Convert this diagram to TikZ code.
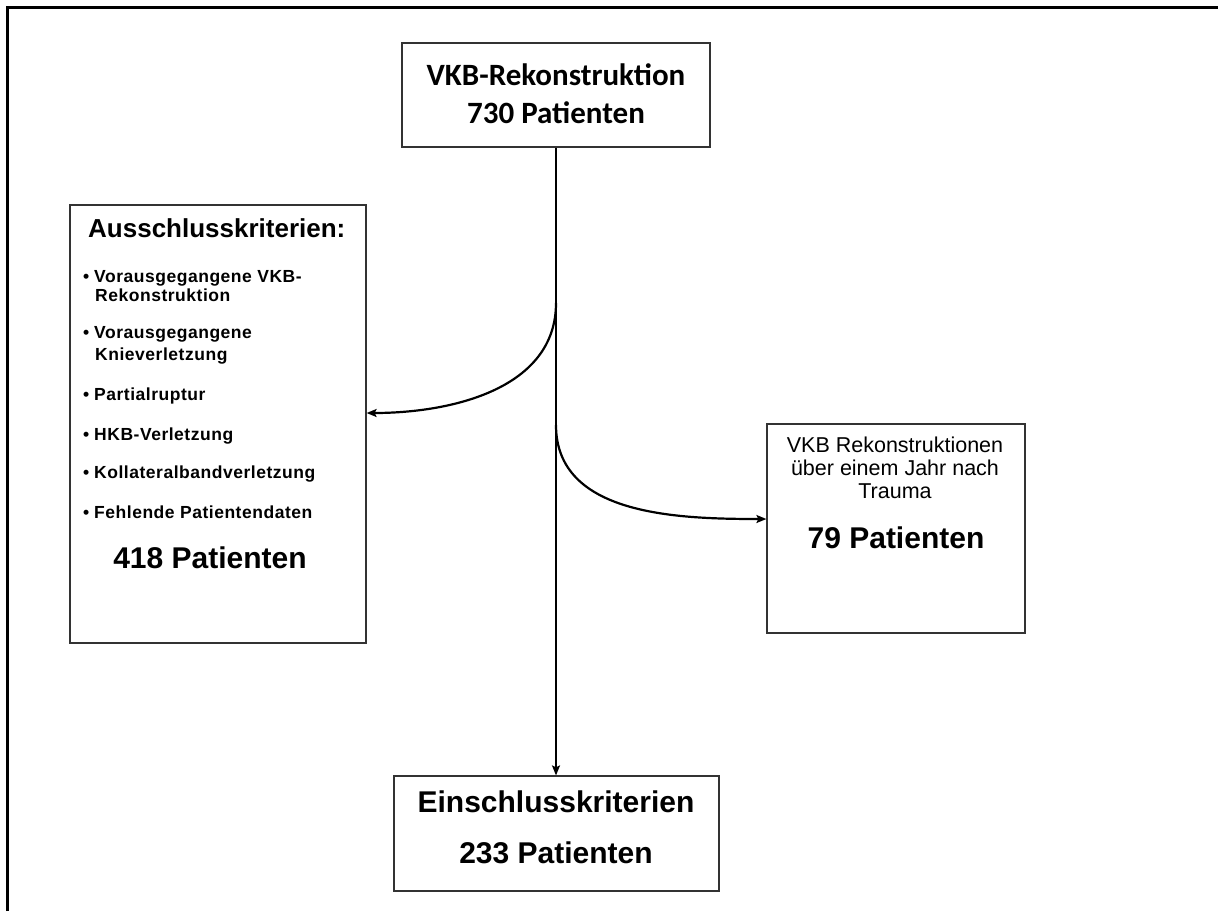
\documentclass[tikz,border=0pt]{standalone}
\usepackage{fontspec}
\setmainfont{Liberation Sans}
\newfontfamily\carlitofont{Carlito}
\usetikzlibrary{arrows.meta}
\begin{document}
\begin{tikzpicture}[x=1pt,y=-1pt,
  box/.style={draw=black!80,line width=1.2pt,inner sep=0pt},
  conn/.style={line width=2.2pt,-{Stealth[length=10pt,width=8pt,inset=2pt]}},
  bul/.style={anchor=base west,inner sep=0pt,font=\fontsize{17.5}{20}\selectfont\bfseries\addfontfeature{LetterSpace=3}},
  big/.style={anchor=base,inner sep=0pt,font=\fontsize{30}{36}\selectfont\bfseries},
  sm/.style={anchor=base,inner sep=0pt,font=\fontsize{21.5}{24}\selectfont}]
\useasboundingbox (0,0) rectangle (1218,911);
\draw[line width=3pt] (7,911) -- (7,7) -- (1218,7);
% boxes
\node[box,minimum width=308pt,minimum height=104pt] (top) at (556,95) {};
\node[box,minimum width=296pt,minimum height=438pt] (excl) at (218,424) {};
\node[box,minimum width=258pt,minimum height=209pt] (late) at (896,528.5) {};
\node[box,minimum width=325pt,minimum height=115pt] (incl) at (556.5,833.5) {};
% top text
\node[anchor=base,inner sep=0pt,font=\carlitofont\fontsize{31}{37}\selectfont\bfseries] (t1) at (556,85) {VKB-Rekonstruktion};
\node[anchor=base,inner sep=0pt,font=\carlitofont\fontsize{31}{37}\selectfont\bfseries] (t2) at (556,123) {730 Patienten};
% exclusion text
\node[anchor=base west,inner sep=0pt,font=\fontsize{26}{30}\selectfont\bfseries] (eh) at (88,237) {Ausschlusskriterien:};
\node[bul] (b1) at (83,282) {•};
\node[bul] (e1) at (94,282) {Vorausgegangene VKB-};
\node[bul] (e1b) at (95,301) {Rekonstruktion};
\node[bul] (b2) at (83,338) {•};
\node[bul] (e2) at (94,338) {Vorausgegangene};
\node[bul] (e2b) at (95,360) {Knieverletzung};
\node[bul] (b3) at (83,400) {•};
\node[bul] (e3) at (94,400) {Partialruptur};
\node[bul] (b4) at (83,440) {•};
\node[bul] (e4) at (94,440) {HKB-Verletzung};
\node[bul] (b5) at (83,478) {•};
\node[bul] (e5) at (94,478) {Kollateralbandverletzung};
\node[bul] (b6) at (83,518) {•};
\node[bul] (e6) at (94,518) {Fehlende Patientendaten};
\node[big] (en) at (210,568) {418 Patienten};
% late text
\node[sm] (l1) at (895,452) {VKB Rekonstruktionen};
\node[sm] (l2) at (895,475) {über einem Jahr nach};
\node[sm] (l3) at (895,498) {Trauma};
\node[big] (ln) at (896,548) {79 Patienten};
% inclusion text
\node[big] (i1) at (556,812) {Einschlusskriterien};
\node[big] (i2) at (556,863) {233 Patienten};
% connectors
\coordinate (s1) at (556,303);
\coordinate (s2) at (556,425);
\draw[conn] (top.south -| s1) -- (incl.north -| s1);
\draw[conn] (s1) to[out=-90,in=0] (excl.east |- 0,413);
\draw[conn] (s2) to[out=-90,in=180] (late.west |- 0,519);
\end{tikzpicture}
\end{document}
